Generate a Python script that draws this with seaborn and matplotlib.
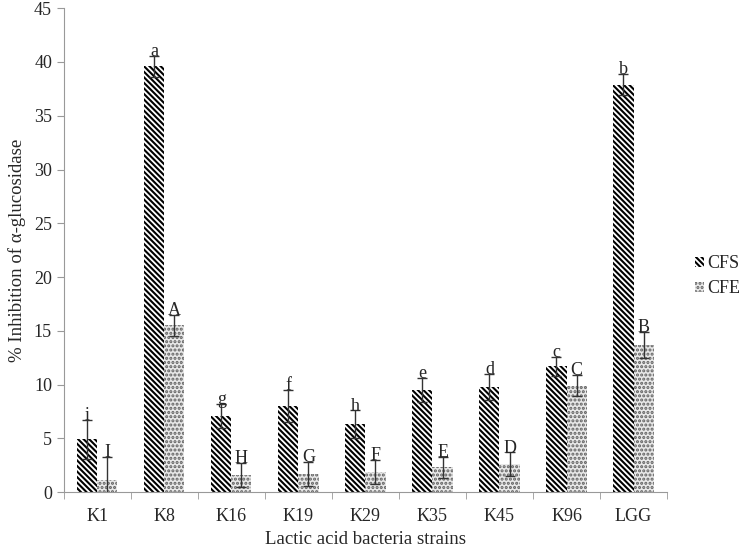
import matplotlib
matplotlib.use("Agg")
import matplotlib.pyplot as plt
import seaborn as sns
import pandas as pd
import numpy as np
from matplotlib.patches import Patch

# data
strains = ["K1", "K8", "K16", "K19", "K29", "K35", "K45", "K96", "LGG"]
cfs = [4.9, 39.6, 7.1, 8.0, 6.3, 9.5, 9.8, 11.7, 37.9]
cfe = [1.1, 15.5, 1.6, 1.7, 1.9, 2.3, 2.6, 9.9, 13.7]
cfs_err = [1.8, 1.0, 1.1, 1.5, 1.3, 1.1, 1.2, 0.9, 1.0]
cfe_err = [2.2, 1.0, 1.1, 1.1, 1.1, 1.0, 1.1, 1.0, 1.2]
cfs_letters = ["i", "a", "g", "f", "h", "e", "d", "c", "b"]
cfe_letters = ["I", "A", "H", "G", "F", "E", "D", "C", "B"]

df = pd.DataFrame({
    "strain": strains * 2,
    "value": cfs + cfe,
    "group": ["CFS"] * len(strains) + ["CFE"] * len(strains),
})

sns.set_style("white")
plt.rcParams["font.family"] = ["Liberation Serif", "DejaVu Serif"]
plt.rcParams["hatch.linewidth"] = 1.5

fig = plt.figure(figsize=(7.42, 5.48), dpi=100)
ax = fig.add_axes([0.086, 0.102, 0.813, 0.883])

sns.barplot(data=df, x="strain", y="value", hue="group", order=strains,
            hue_order=["CFS", "CFE"], palette=["white", "#e8e8e8"],
            width=0.6, gap=0, errorbar=None, ax=ax, legend=False)

# hatch the bars: first container CFS, second CFE
styles = [("\\" * 6, "black", "white"), ("....", "#606060", "#e8e8e8")]
errs = [cfs_err, cfe_err]
letters = [cfs_letters, cfe_letters]
for cont, (h, ec, fc), err, lab in zip(ax.containers, styles, errs, letters):
    xs, ys = [], []
    for bar in cont:
        bar.set_hatch(h)
        bar.set_edgecolor(ec)
        bar.set_facecolor(fc)
        bar.set_linewidth(0)
        xs.append(bar.get_x() + bar.get_width() / 2)
        ys.append(bar.get_height())
    ax.errorbar(xs, ys, yerr=err, fmt="none", ecolor="#333333",
                elinewidth=1, capsize=3.5, capthick=1)
    for x, y, e, t in zip(xs, ys, err, lab):
        ax.text(x, y + e - 0.4, t, ha="center", va="bottom", fontsize=13)

ax.set_ylim(0, 45)
ax.set_yticks(np.arange(0, 46, 5))
ax.set_xlim(-0.5, len(strains) - 0.5)
ax.set_ylabel("% Inhibition of α-glucosidase", fontsize=13.5, labelpad=6)
ax.set_xlabel("Lactic acid bacteria strains", fontsize=13.5, labelpad=4)

for s in ["top", "right"]:
    ax.spines[s].set_visible(False)
for s in ["left", "bottom"]:
    ax.spines[s].set_color("#999999")
ax.tick_params(axis="y", which="major", left=True, length=5, color="#999999",
               labelsize=13)
ax.tick_params(axis="x", which="major", bottom=False, labelsize=13, pad=8)
ax.set_xticks(np.arange(-0.5, len(strains), 1), minor=True)
ax.tick_params(axis="x", which="minor", bottom=True, length=5,
               color="#999999")

handles = [Patch(facecolor=fc, edgecolor=ec, hatch=h, linewidth=0)
           for h, ec, fc in styles]
fig.legend(handles, ["CFS", "CFE"], loc="center left",
           bbox_to_anchor=(0.936, 0.496), frameon=False, fontsize=13,
           handlelength=0.5, handleheight=0.5, handletextpad=0.2,
           labelspacing=0.45, borderpad=0, borderaxespad=0)

fig.savefig("out.png", dpi=100)
